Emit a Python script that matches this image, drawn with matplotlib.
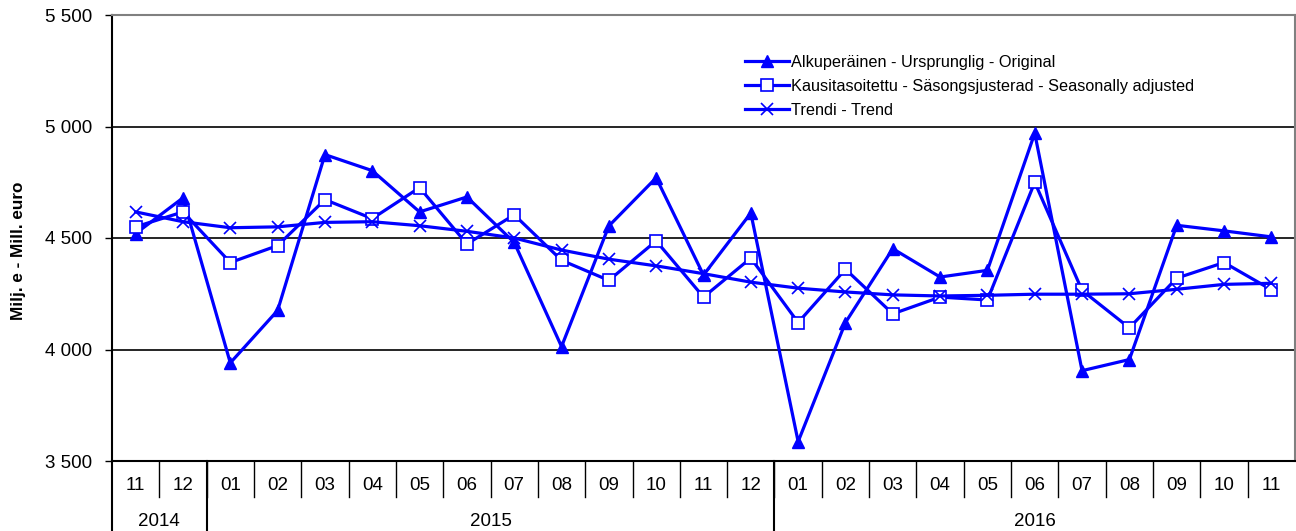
import matplotlib.pyplot as plt
import matplotlib.transforms as mtransforms
import numpy as np

plt.rcParams['font.family'] = ['Liberation Sans', 'DejaVu Sans']

# months from 2014-11 to 2016-11
months = ['11', '12', '01', '02', '03', '04', '05', '06', '07', '08', '09', '10', '11', '12',
          '01', '02', '03', '04', '05', '06', '07', '08', '09', '10', '11']
years = ['2014', '2015', '2016']
year_counts = [2, 12, 11]

original = [4520, 4680, 3940, 4175, 4874, 4802, 4617, 4684, 4480, 4013, 4554, 4770, 4334,
            4612, 3587, 4121, 4452, 4325, 4355, 4970, 3905, 3955, 4557, 4532, 4505]
seas_adj = [4550, 4617, 4390, 4466, 4672, 4587, 4726, 4473, 4604, 4400, 4310, 4487, 4235,
            4410, 4121, 4360, 4160, 4235, 4222, 4750, 4265, 4097, 4320, 4390, 4268]
trend = [4617, 4573, 4546, 4550, 4570, 4573, 4555, 4530, 4500, 4446, 4405, 4375, 4340,
         4302, 4275, 4258, 4245, 4240, 4243, 4248, 4248, 4250, 4270, 4292, 4297]

labels = ['Alkuperäinen - Ursprunglig - Original',
          'Kausitasoitettu - Säsongsjusterad - Seasonally adjusted',
          'Trendi - Trend']

blue = '#0000ff'
fig = plt.figure(figsize=(12.96, 5.31), dpi=100)
ax = fig.add_axes([112 / 1296, 1 - 461 / 531, 1183 / 1296, 446 / 531])

x = np.arange(len(months))
ax.plot(x, original, color=blue, lw=2.3, marker='^', ms=9, mfc=blue, mec=blue, label=labels[0])
ax.plot(x, seas_adj, color=blue, lw=2.3, marker='s', ms=8, mfc='white', mec=blue, mew=1.2,
        label=labels[1])
ax.plot(x, trend, color=blue, lw=2.3, marker='x', ms=9, mew=1.2, label=labels[2])

ax.set_xlim(-0.5, len(months) - 0.5)
ax.set_ylim(3500, 5500)
ax.set_yticks([3500, 4000, 4500, 5000, 5500])
ax.set_yticklabels(['3 500', '4 000', '4 500', '5 000', '5 500'], fontsize=13.5)
ax.tick_params(axis='y', length=5, width=1, direction='out', pad=9)
ax.set_xticks([])
for v in [4000, 4500, 5000]:
    ax.axhline(v, color='black', lw=1.2, zorder=0)

for side in ['top', 'right']:
    ax.spines[side].set_color('#808080')
    ax.spines[side].set_linewidth(1.5)
ax.spines['left'].set_linewidth(1.5)
ax.spines['bottom'].set_linewidth(1.5)

ax.set_ylabel('Milj. e - Mill. euro', fontsize=12.3, fontweight='bold')
ax.yaxis.set_label_coords(-0.073, 0.471)

# two level category axis
trans = mtransforms.blended_transform_factory(ax.transData, ax.transAxes)
px = 1 / 446
for i, m in enumerate(months):
    ax.text(i, -24 * px, m, transform=trans, ha='center', va='center', fontsize=13.5)
for b in range(1, len(months)):
    ax.plot([b - 0.5, b - 0.5], [0, -36 * px], transform=trans, color='black', lw=1,
            clip_on=False)
start = 0
edges = [-0.5]
for yr, n in zip(years, year_counts):
    ax.text(start + (n - 1) / 2, -60 * px, yr, transform=trans, ha='center', va='center',
            fontsize=13.5)
    start += n
    edges.append(start - 0.5)
for e in edges[:-1]:
    ax.plot([e, e], [0, -72 * px], transform=trans, color='black', lw=1.5, clip_on=False)

ax.legend(loc='upper left', bbox_to_anchor=(0.53, 0.925), frameon=False, fontsize=11.7,
          handlelength=2.7, handletextpad=0.1, labelspacing=0.55, borderaxespad=0)

fig.savefig('out.png', dpi=100)
